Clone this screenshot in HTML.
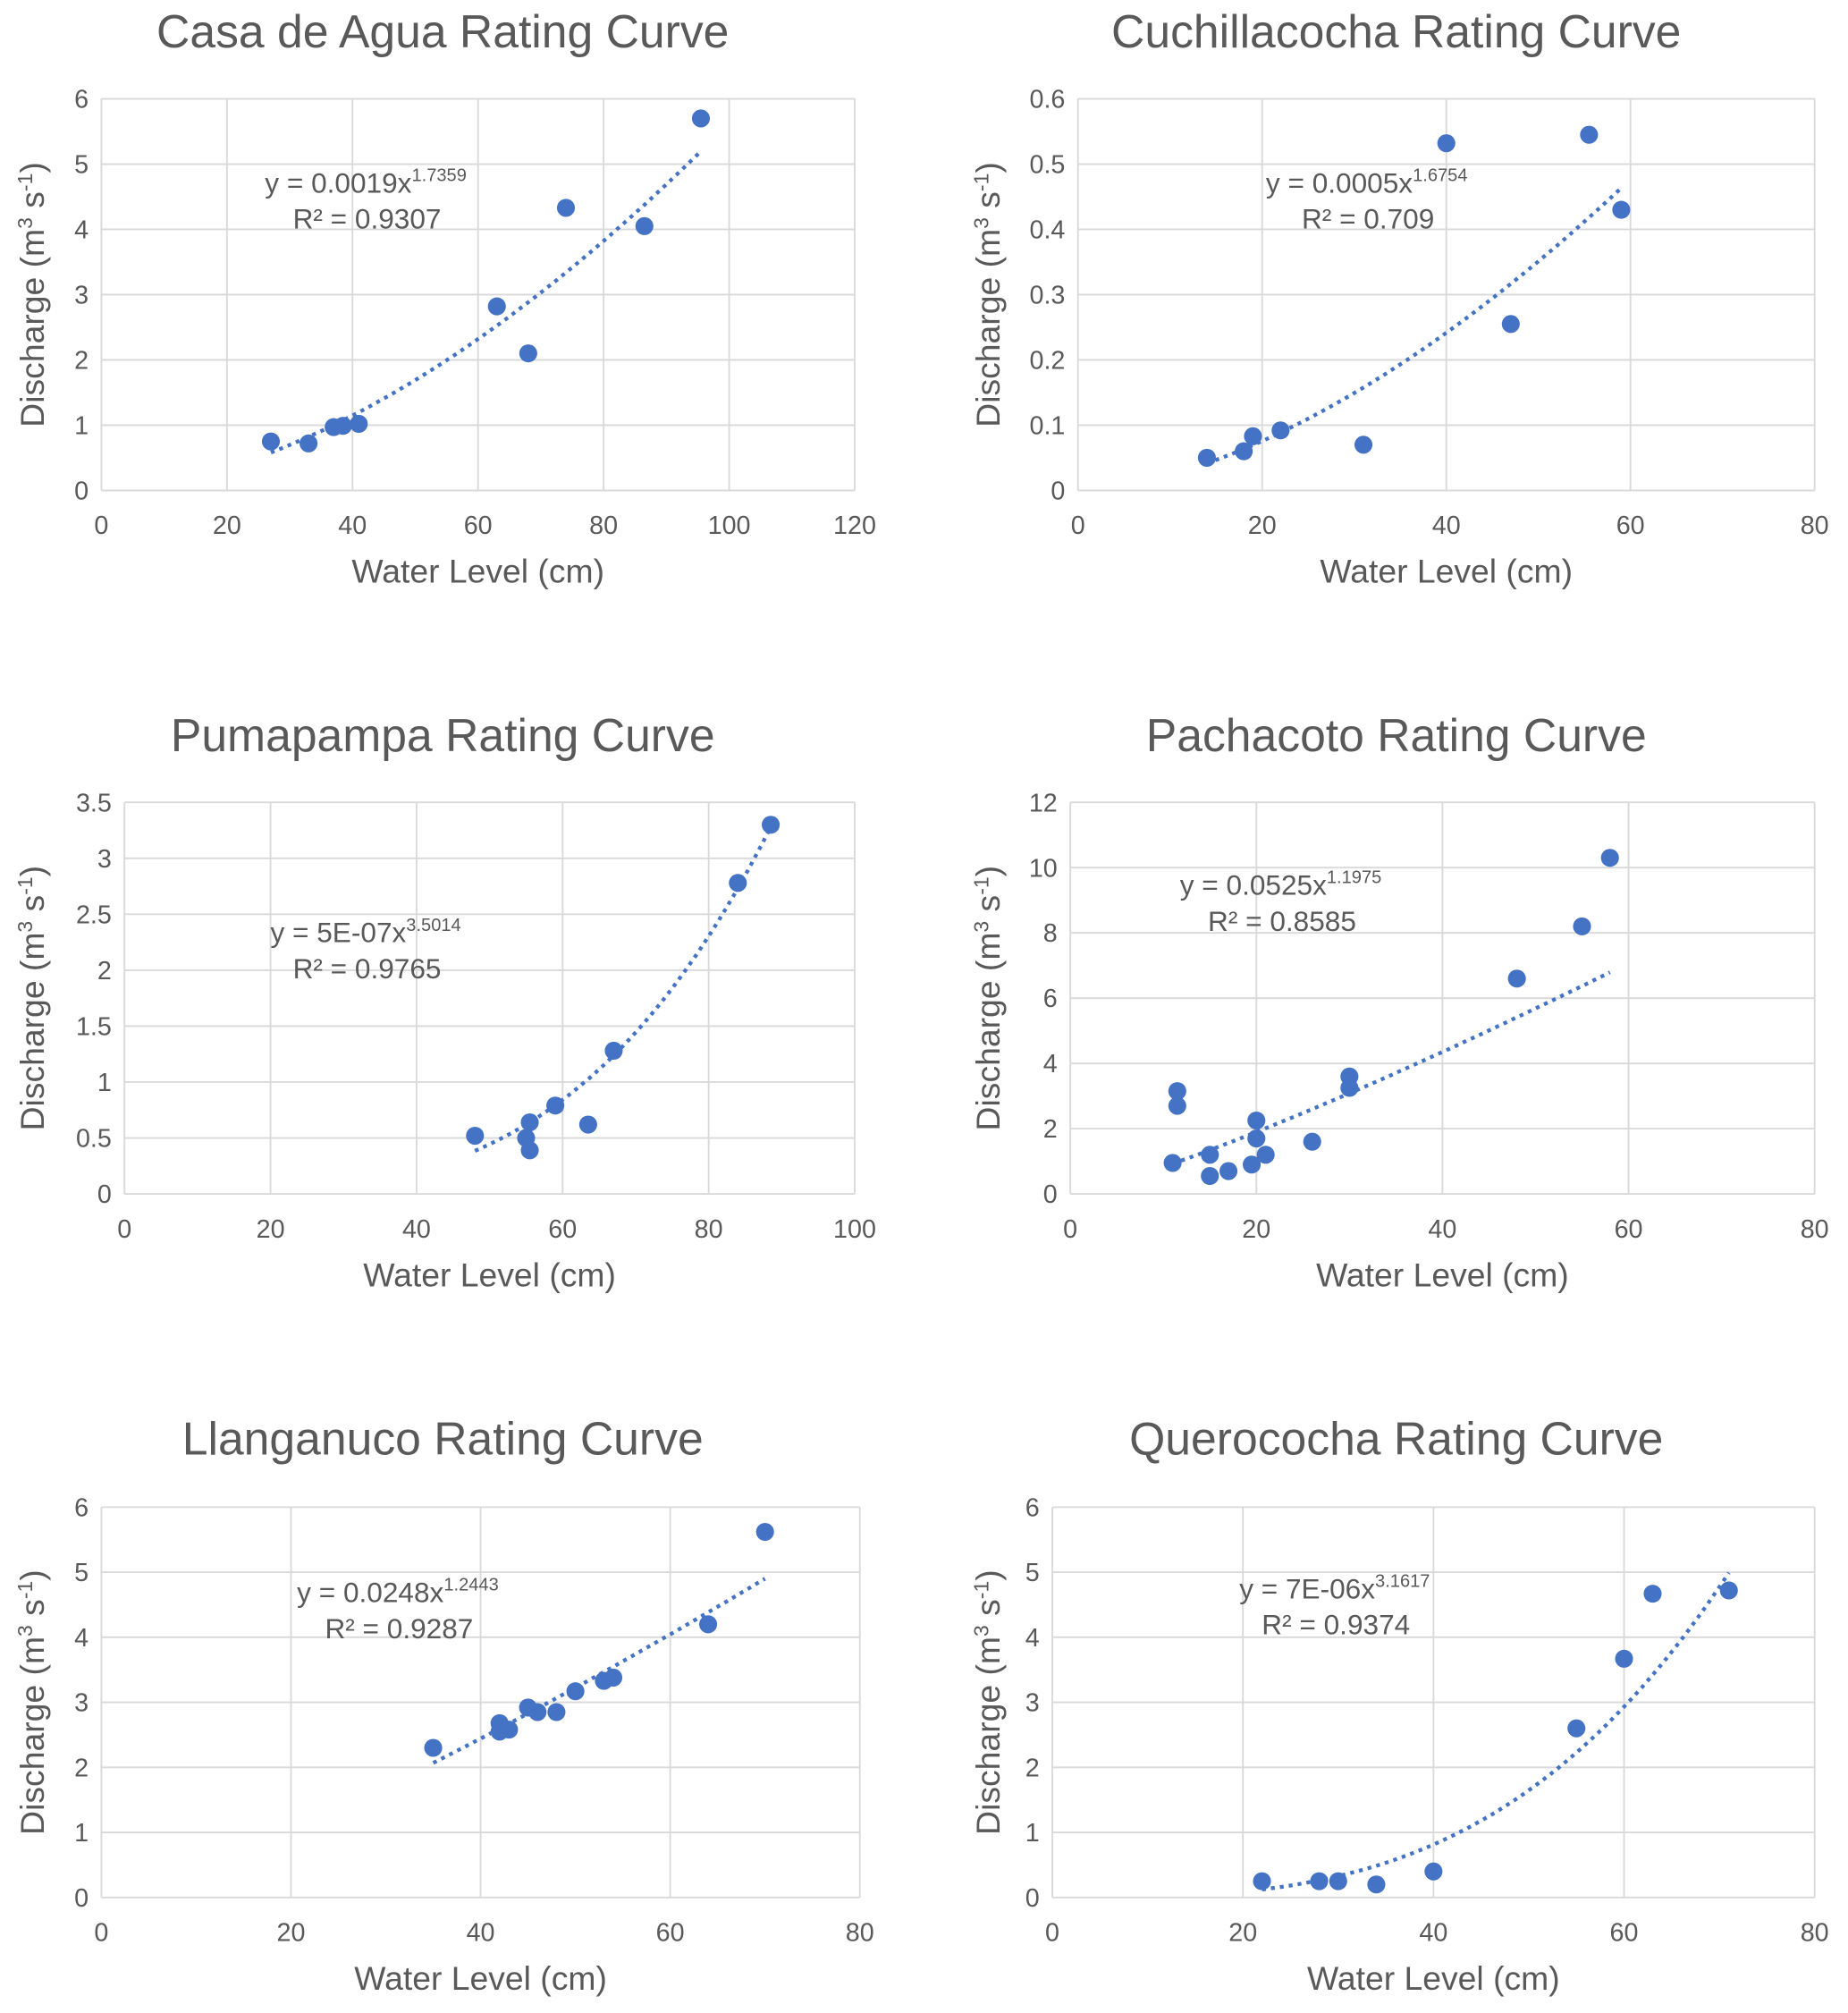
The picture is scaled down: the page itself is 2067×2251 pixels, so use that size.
<!DOCTYPE html>
<html><head><meta charset="utf-8">
<style>
html,body{margin:0;padding:0;background:#fff;}
svg{display:block;font-family:"Liberation Sans",Arial,sans-serif;}
</style></head>
<body>
<svg id="root" width="2067" height="2251" viewBox="0 0 1440 1568" preserveAspectRatio="none" xmlns="http://www.w3.org/2000/svg"></svg>
<script>
// ---- data ----
const casaX = [27,33,37,38.5,41,63,68,74,86.5,95.5];
const casaY = [0.75,0.72,0.97,0.99,1.02,2.82,2.1,4.33,4.05,5.7];
const casaXTicks = [0,20,40,60,80,100,120];
const casaYTicks = [0,1,2,3,4,5,6];

const cuchX = [14,18,19,22,31,40,47,55.5,59];
const cuchY = [0.05,0.06,0.083,0.092,0.07,0.532,0.255,0.545,0.43];
const cuchXTicks = [0,20,40,60,80];
const cuchYTicks = [0,0.1,0.2,0.3,0.4,0.5,0.6];

const pumaX = [48,55,55.5,55.5,59,63.5,67,84,88.5];
const pumaY = [0.52,0.5,0.64,0.39,0.79,0.62,1.28,2.78,3.3];
const pumaXTicks = [0,20,40,60,80,100];
const pumaYTicks = [0,0.5,1,1.5,2,2.5,3,3.5];

const pachX = [11,11.5,11.5,15,15,17,19.5,20,20,21,26,30,30,48,55,58];
const pachY = [0.95,2.7,3.15,0.55,1.2,0.7,0.9,1.7,2.25,1.2,1.6,3.25,3.6,6.6,8.2,10.3];
const pachXTicks = [0,20,40,60,80];
const pachYTicks = [0,2,4,6,8,10,12];

const llanX = [35,42,42,43,45,46,48,50,53,54,64,70];
const llanY = [2.3,2.55,2.68,2.58,2.92,2.85,2.85,3.17,3.33,3.38,4.2,5.62];
const llanXTicks = [0,20,40,60,80];
const llanYTicks = [0,1,2,3,4,5,6];

const queroX = [22,28,30,34,40,55,60,63,71];
const queroY = [0.25,0.25,0.25,0.2,0.4,2.6,3.67,4.67,4.72];
const queroXTicks = [0,20,40,60,80];
const queroYTicks = [0,1,2,3,4,5,6];

const fitA = [0.0019,0.0005,5e-7,0.0525,0.0248,7e-6];
const fitB = [1.7359,1.6754,3.5014,1.1975,1.2443,3.1617];
const eqText = [["0.0019x","1.7359","0.9307"],["0.0005x","1.6754","0.709"],["5E-07x","3.5014","0.9765"],["0.0525x","1.1975","0.8585"],["0.0248x","1.2443","0.9287"],["7E-06x","3.1617","0.9374"]];

// ---- layout ----
const charts = [
 {name:"casa-de-agua",title:"Casa de Agua Rating Curve",xs:casaX,ys:casaY,xt:casaXTicks,yt:casaYTicks,L:79,R:666,T:77,B:382,tx:345,ty:37,eq:[285,150],yl:25},
 {name:"cuchillacocha",title:"Cuchillacocha Rating Curve",xs:cuchX,ys:cuchY,xt:cuchXTicks,yt:cuchYTicks,L:840,R:1414,T:77,B:382,tx:1088,ty:37,eq:[1065,150],yl:770},
 {name:"pumapampa",title:"Pumapampa Rating Curve",xs:pumaX,ys:pumaY,xt:pumaXTicks,yt:pumaYTicks,L:97,R:666,T:625,B:930,tx:345,ty:585,eq:[285,734],yl:25},
 {name:"pachacoto",title:"Pachacoto Rating Curve",xs:pachX,ys:pachY,xt:pachXTicks,yt:pachYTicks,L:834,R:1414,T:625,B:930,tx:1088,ty:585,eq:[998,697],yl:770},
 {name:"llanganuco",title:"Llanganuco Rating Curve",xs:llanX,ys:llanY,xt:llanXTicks,yt:llanYTicks,L:79,R:670,T:1174,B:1478,tx:345,ty:1133,eq:[310,1248],yl:25},
 {name:"querococha",title:"Querococha Rating Curve",xs:queroX,ys:queroY,xt:queroXTicks,yt:queroYTicks,L:820,R:1414,T:1174,B:1478,tx:1088,ty:1133,eq:[1040,1245],yl:770}
];
const NS="http://www.w3.org/2000/svg";
const root=document.getElementById('root');
function mk(tag,attrs,parent,text){const e=document.createElementNS(NS,tag);for(const k in attrs)e.setAttribute(k,attrs[k]);if(text!==undefined)e.textContent=text;parent.appendChild(e);return e;}

charts.forEach((c,i)=>{
 const g=mk('g',{},root);
 
 
 const xmax=c.xt[c.xt.length-1], ymax=c.yt[c.yt.length-1];
 const sx=v=>c.L+(v/xmax)*(c.R-c.L);
 const sy=v=>c.B-(v/ymax)*(c.B-c.T);
 c.yt.forEach(t=>{const l=mk('line',{x1:c.L,x2:c.R,y1:sy(t),y2:sy(t),stroke:'#d9d9d9','stroke-width':1.3},g);
  
  
  const tl=mk('text',{x:c.L-10,y:sy(t)+7,'text-anchor':'end','font-size':20,fill:'#595959'},g,String(t));
  
  });
 c.xt.forEach(t=>{const l=mk('line',{x1:sx(t),x2:sx(t),y1:c.T,y2:c.B,stroke:'#d9d9d9','stroke-width':1.3},g);
  
  
  const tl=mk('text',{x:sx(t),y:c.B+34,'text-anchor':'middle','font-size':20,fill:'#595959'},g,String(t));
  
  });
 const ti=mk('text',{x:c.tx,y:c.ty,'text-anchor':'middle','font-size':36,fill:'#595959'},g,c.title);
 
 
 const xl=mk('text',{x:(c.L+c.R)/2,y:c.B+72,'text-anchor':'middle','font-size':26,fill:'#595959'},g,'Water Level (cm)');
 
 
 const cy=(c.T+c.B)/2;
 const yl=mk('text',{x:c.yl+9,y:cy,'text-anchor':'middle','font-size':26,fill:'#595959',transform:`rotate(-90 ${c.yl+9} ${cy})`},g);
 
 
 yl.innerHTML='Discharge (m<tspan font-size="16" dy="-9">3</tspan><tspan dy="9"> s</tspan><tspan font-size="16" dy="-9">-1</tspan><tspan dy="9">)</tspan>';
 const x0=Math.min(...c.xs), x1=Math.max(...c.xs);
 let d='';
 for(let k=0;k<=60;k++){const x=x0+(x1-x0)*k/60;const y=fitA[i]*Math.pow(x,fitB[i]);d+=(k?'L':'M')+sx(x).toFixed(1)+','+sy(y).toFixed(1);}
 const p=mk('path',{d:d,fill:'none',stroke:'#4472c4','stroke-width':3,'stroke-dasharray':'3 4'},g);
 
 
 c.xs.forEach((x,j)=>{const pt=mk('circle',{cx:sx(x),cy:sy(c.ys[j]),r:7,fill:'#4472c4'},g);
  
  });
 const eq=mk('text',{x:c.eq[0],y:c.eq[1],'text-anchor':'middle','font-size':22,fill:'#595959'},g);
 
 
 eq.innerHTML='y = '+eqText[i][0]+'<tspan font-size="14" dy="-9">'+eqText[i][1]+'</tspan>';
 const r2=mk('text',{x:c.eq[0]+1,y:c.eq[1]+28,'text-anchor':'middle','font-size':22,fill:'#595959'},g,'R² = '+eqText[i][2]);
 
 
});
</script>
</body></html>
